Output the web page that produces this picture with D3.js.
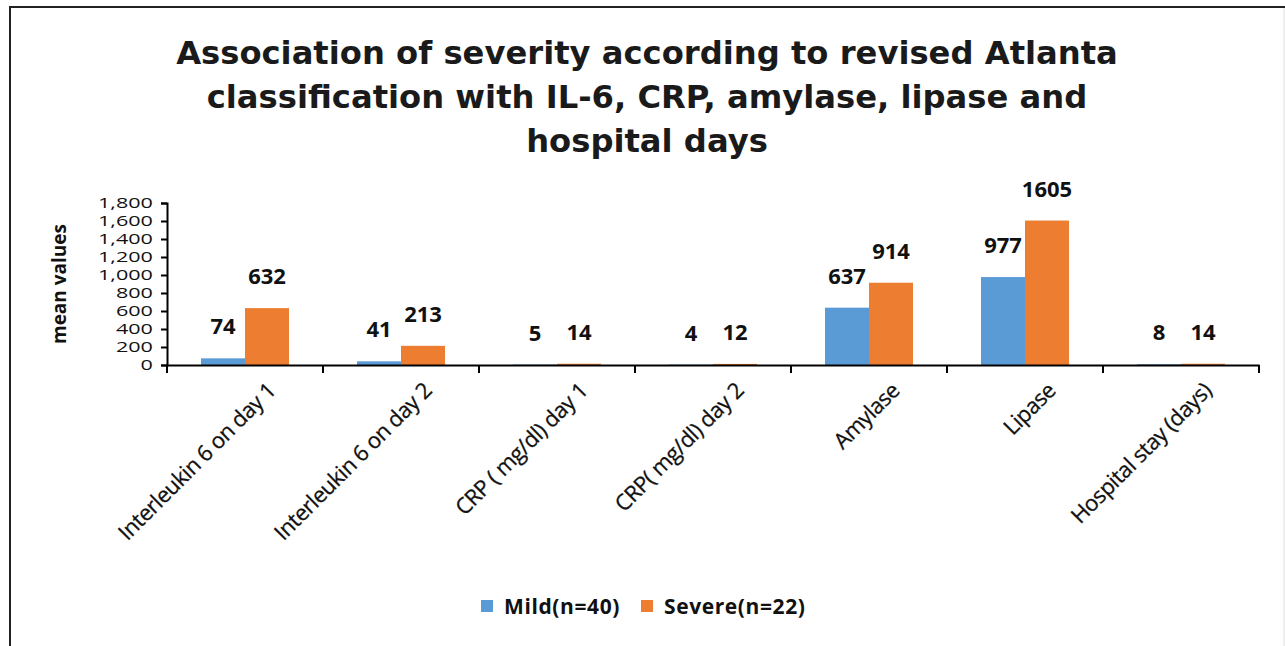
<!DOCTYPE html>
<html>
<head>
<meta charset="utf-8">
<script src="https://cdn.jsdelivr.net/npm/d3@7/dist/d3.min.js"></script>
<style>
  html, body { margin: 0; padding: 0; background: #fff; }
  svg { display: block; }
</style>
</head>
<body>
<svg id="chart" width="1285" height="646"></svg>
<script>
const categories = [
  "Interleukin 6 on day 1",
  "Interleukin 6 on day 2",
  "CRP ( mg/dl) day 1",
  "CRP( mg/dl) day 2",
  "Amylase",
  "Lipase",
  "Hospital stay (days)"
];
const seriesNames = ["Mild(n=40)", "Severe(n=22)"];
const mildValues = [74, 41, 5, 4, 637, 977, 8];
const severeValues = [632, 213, 14, 12, 914, 1605, 14];
const yTicks = [0, 200, 400, 600, 800, 1000, 1200, 1400, 1600, 1800];
const titleLines = [
  "Association of severity according to revised Atlanta",
  "classification with IL-6, CRP, amylase, lipase and",
  "hospital days"
];
const colors = ["#5B9BD5", "#ED7D31"];

const svg = d3.select("#chart");
const W = 1285, H = 646;

// frame
svg.append("line").attr("x1", 10).attr("x2", W).attr("y1", 7).attr("y2", 7)
  .attr("stroke", "#222").attr("stroke-width", 2);
svg.append("line").attr("x1", 10).attr("x2", 10).attr("y1", 6).attr("y2", H)
  .attr("stroke", "#222").attr("stroke-width", 2);
svg.append("line").attr("x1", 1284).attr("x2", 1284).attr("y1", 8).attr("y2", H)
  .attr("stroke", "#ddd").attr("stroke-width", 1);

// title
const title = svg.append("g");
titleLines.forEach((t, i) => {
  title.append("text")
    .attr("x", 647).attr("y", 64 + i * 44)
    .attr("text-anchor", "middle")
    .attr("font-family", "DejaVu Sans, sans-serif")
    .attr("font-weight", "bold")
    .attr("font-size", 30)
    .attr("fill", "#1a1a1a")
    .text(t);
});
const t0 = title.select("text").node().getComputedTextLength();
const fs = 30 * 942 / t0;
title.selectAll("text").attr("font-size", fs);

const x0 = 167, x1 = 1259, yBase = 365, yTop = 203;
const x = d3.scaleBand().domain(categories).range([x0, x1]).paddingInner(0).paddingOuter(0);
const y = d3.scaleLinear().domain([0, 1800]).range([yBase, yTop]);
const barW = 44;

const labelFont = "Open Sans, Liberation Sans, sans-serif";

// y axis
const yAxis = d3.axisLeft(y).tickValues(yTicks).tickSize(6).tickPadding(8)
  .tickFormat(d3.format(","));
const gy = svg.append("g").attr("transform", `translate(${x0},0)`).call(yAxis);
gy.select(".domain").attr("stroke", "#000").attr("stroke-width", 2);
gy.selectAll(".tick line").attr("stroke", "#000").attr("stroke-width", 2);
gy.selectAll(".tick text")
  .attr("font-family", "Liberation Sans Narrow, Open Sans, sans-serif")
  .attr("font-size", 20).attr("fill", "#111")
  .attr("x", -13)
  .attr("dy", "0.33em")
  .attr("transform", "scale(1.08,0.7)");

// bars
const groups = svg.append("g");
categories.forEach((c, i) => {
  const cx = x(c) + x.bandwidth() / 2;
  [mildValues[i], severeValues[i]].forEach((v, s) => {
    const bx = cx - barW + s * barW;
    groups.append("rect")
      .attr("x", bx).attr("y", y(v))
      .attr("width", barW).attr("height", yBase - y(v))
      .attr("fill", colors[s]);
    groups.append("text")
      .attr("x", bx + barW / 2).attr("y", y(v) - 24)
      .attr("text-anchor", "middle")
      .attr("font-family", labelFont)
      .attr("font-weight", "bold")
      .attr("font-size", 22)
      .attr("fill", "#111")
      .text(v);
  });
});

// x axis
const xAxis = d3.axisBottom(x).tickSize(0).tickFormat("");
const gx = svg.append("g").attr("transform", `translate(0,${yBase})`).call(xAxis);
gx.select(".domain").attr("stroke", "#000").attr("stroke-width", 2);
const bounds = categories.map(c => x(c)).concat([x1]);
gx.selectAll(".bt").data(bounds).enter().append("line")
  .attr("x1", d => d).attr("x2", d => d).attr("y1", 0).attr("y2", 8)
  .attr("stroke", "#000").attr("stroke-width", 2);
gx.selectAll(".xl").data(categories).enter().append("text")
  .attr("text-anchor", "end")
  .attr("font-family", labelFont)
  .attr("font-size", 22)
  .attr("letter-spacing", -0.5)
  .attr("fill", "#111")
  .attr("stroke", "#111").attr("stroke-width", 0.3)
  .attr("transform", d => `translate(${x(d) + x.bandwidth() / 2 + 32},${27}) rotate(-45)`)
  .text(d => d);

// y axis title
svg.append("text")
  .attr("transform", "translate(66,284) rotate(-90)")
  .attr("text-anchor", "middle")
  .attr("font-family", labelFont)
  .attr("font-weight", "bold")
  .attr("font-size", 19)
  .attr("fill", "#111")
  .text("mean values");

// legend
const legend = svg.append("g");
const legX = [481, 641];
seriesNames.forEach((n, i) => {
  legend.append("rect").attr("x", legX[i]).attr("y", 600).attr("width", 12).attr("height", 12)
    .attr("fill", colors[i]);
  legend.append("text").attr("x", legX[i] + 23).attr("y", 614)
    .attr("font-family", labelFont).attr("font-weight", "bold")
    .attr("font-size", 21).attr("letter-spacing", 0.6).attr("fill", "#111").text(n);
});
</script>
</body>
</html>
